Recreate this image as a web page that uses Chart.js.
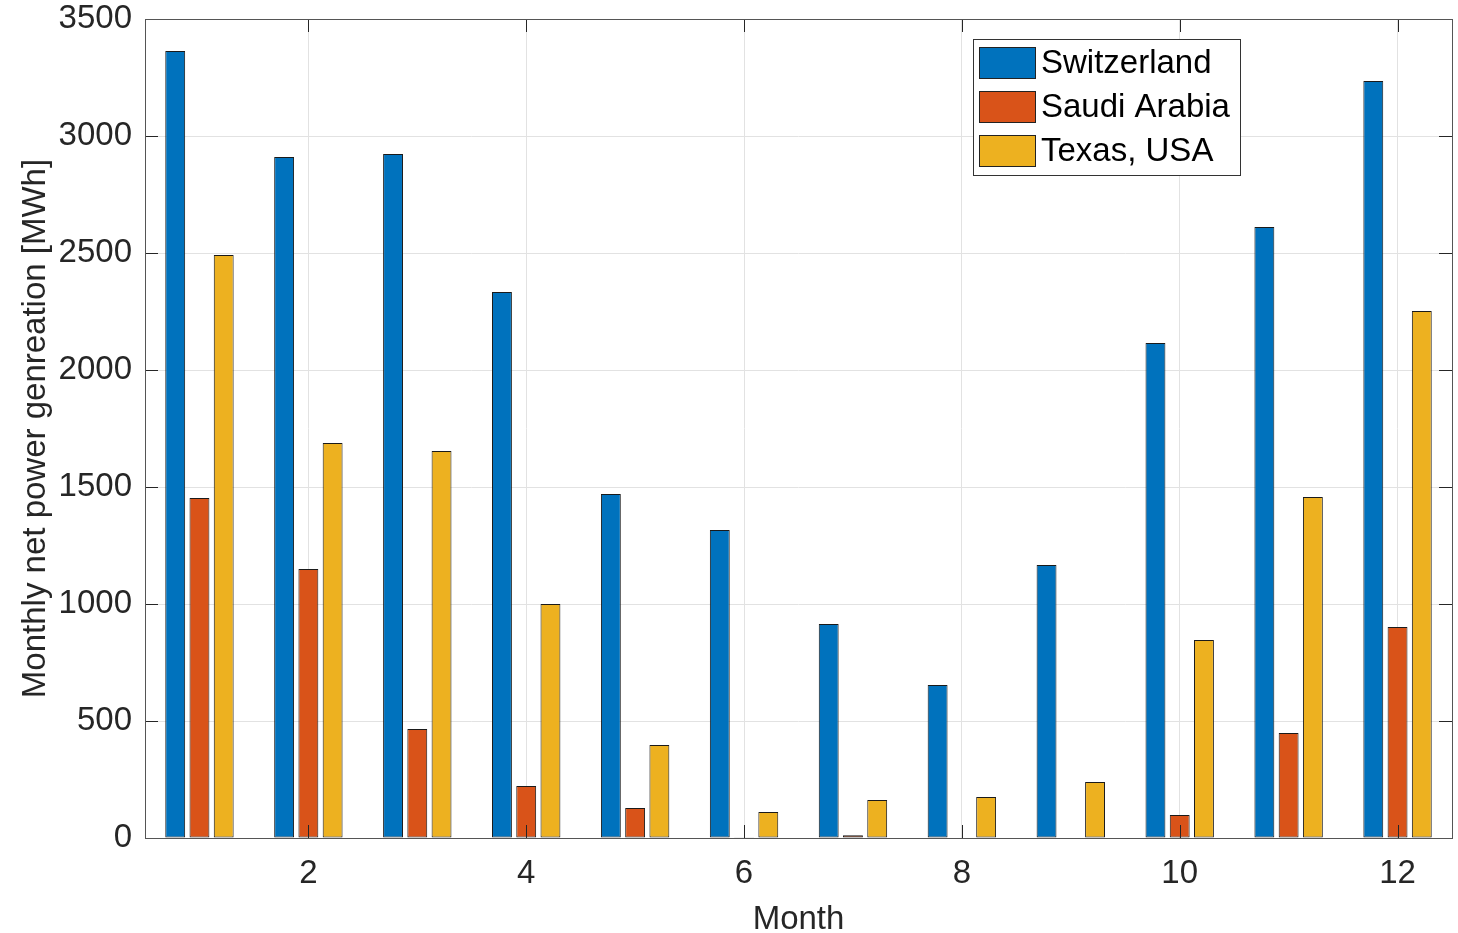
<!DOCTYPE html>
<html>
<head>
<meta charset="utf-8">
<script src="https://cdn.jsdelivr.net/npm/chart.js@4.4.1/dist/chart.umd.min.js"></script>
<style>
  html, body { margin: 0; padding: 0; background: #fff; }
  #wrap { width: 1458px; height: 933px; position: relative; }
</style>
</head>
<body>
<div id="wrap"><canvas id="chart"></canvas></div>
<script>
const months = ['1', '2', '3', '4', '5', '6', '7', '8', '9', '10', '11', '12'];
const seriesNames = ['Switzerland', 'Saudi Arabia', 'Texas, USA'];
const switzerland = [3363, 2910, 2923, 2333, 1470, 1316, 915, 654, 1167, 2115, 2611, 3235];
const saudiArabia = [1453, 1150, 466, 222, 128, 3, 12, 0, 0, 98, 449, 902];
const texas = [2491, 1688, 1654, 1000, 397, 111, 162, 175, 239, 846, 1457, 2252];
const yTicks = [0, 500, 1000, 1500, 2000, 2500, 3000, 3500];

const colors = ['#0072BD', '#D95319', '#EDB120'];
const axisColor = '#262626';
const gridColor = '#e2e2e2';
const font = 'Liberation Sans, Arial, Helvetica, sans-serif';

// box round the plot plus MATLAB-style inward ticks
const boxPlugin = {
    id: 'box',
    afterDraw(chart) {
        const { ctx, chartArea: a, scales } = chart;
        const tl = 13;
        ctx.save();
        ctx.strokeStyle = axisColor;
        ctx.lineWidth = 1;
        ctx.beginPath();
        yTicks.forEach(v => {
            const y = Math.round(scales.y.getPixelForValue(v)) + 0.5;
            ctx.moveTo(a.left, y); ctx.lineTo(a.left + tl, y);
            ctx.moveTo(a.right, y); ctx.lineTo(a.right - tl, y);
        });
        months.forEach((m, i) => {
            if ((i + 1) % 2) return;
            const x = Math.round(scales.x.getPixelForValue(i)) + 0.5;
            ctx.moveTo(x, a.bottom); ctx.lineTo(x, a.bottom - tl);
            ctx.moveTo(x, a.top); ctx.lineTo(x, a.top + tl);
        });
        ctx.stroke();
        ctx.strokeStyle = '#555';
        ctx.strokeRect(Math.round(a.left) + 0.5, Math.round(a.top) + 0.5,
            Math.round(a.right - a.left), Math.round(a.bottom - a.top));
        ctx.restore();
    }
};

// boxed legend in the upper right of the plot
const legendPlugin = {
    id: 'boxLegend',
    afterDraw(chart) {
        const { ctx, chartArea: a } = chart;
        const w = 267, h = 136;
        const x0 = a.right - 212 - w, y0 = a.top + 20;
        ctx.save();
        ctx.fillStyle = '#fff';
        ctx.fillRect(x0, y0, w, h);
        ctx.strokeStyle = '#333';
        ctx.lineWidth = 1;
        ctx.strokeRect(x0 + 0.5, y0 + 0.5, w, h);
        ctx.font = '33px ' + font;
        ctx.textBaseline = 'middle';
        chart.data.datasets.forEach((ds, i) => {
            const sy = y0 + 8 + i * 44;
            ctx.fillStyle = ds.backgroundColor;
            ctx.fillRect(x0 + 6, sy, 57, 32);
            ctx.strokeStyle = '#222';
            ctx.strokeRect(x0 + 6.5, sy + 0.5, 56, 31);
            ctx.fillStyle = '#000';
            ctx.fillText(ds.label, x0 + 68, sy + 17);
        });
        ctx.restore();
    }
};

const datasets = [switzerland, saudiArabia, texas].map((vals, i) => ({
    label: seriesNames[i],
    data: vals,
    backgroundColor: colors[i],
    borderColor: '#1a1a1a',
    borderWidth: 1,
    borderSkipped: false,
    categoryPercentage: 0.668,
    barPercentage: 0.82
}));

new Chart(document.getElementById('chart'), {
    type: 'bar',
    data: { labels: months, datasets },
    plugins: [boxPlugin, legendPlugin],
    options: {
        responsive: true,
        maintainAspectRatio: false,
        animation: false,
        layout: { padding: { top: 19, right: 6, left: 0, bottom: 0 } },
        plugins: { legend: { display: false }, tooltip: { enabled: false } },
        scales: {
            x: {
                grid: {
                    offset: false,
                    drawTicks: false,
                    color: c => (c.index % 2 === 1 ? gridColor : 'rgba(0,0,0,0)')
                },
                border: { display: false },
                ticks: {
                    autoSkip: false,
                    maxRotation: 0,
                    padding: 16,
                    color: axisColor,
                    font: { family: font, size: 33 },
                    callback: (v, i) => ((i + 1) % 2 === 0 ? months[i] : '')
                },
                title: {
                    display: true,
                    text: 'Month',
                    color: axisColor,
                    font: { family: font, size: 33, lineHeight: 0.8 },
                    padding: 0
                },
                afterFit: s => { s.height = 95; }
            },
            y: {
                min: 0,
                max: 3500,
                grid: { drawTicks: false, color: gridColor },
                border: { display: false },
                ticks: {
                    stepSize: 500,
                    padding: 13,
                    color: axisColor,
                    font: { family: font, size: 33 },
                    callback: v => String(v)
                },
                title: {
                    display: true,
                    text: 'Monthly net power genreation [MWh]',
                    color: axisColor,
                    font: { family: font, size: 33, lineHeight: 1 },
                    padding: { top: 19, bottom: 0 }
                },
                afterFit: s => {
                    s.width = 145;
                    s.paddingTop = 0;
                    s.paddingBottom = 0;
                }
            }
        }
    }
});
</script>
</body>
</html>
